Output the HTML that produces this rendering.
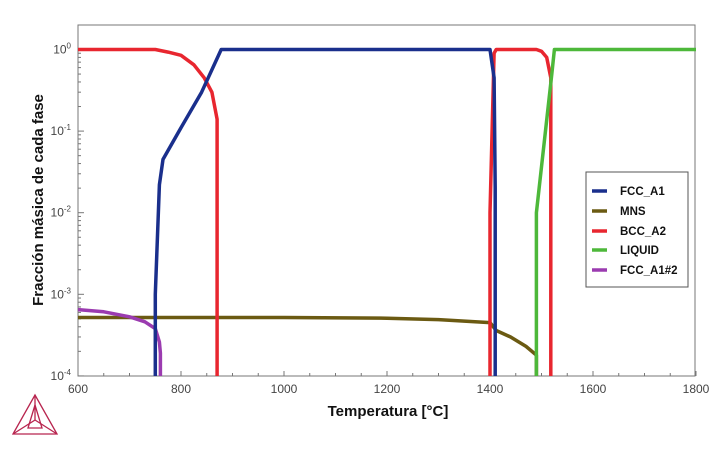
<!DOCTYPE html>
<html><head><meta charset="utf-8"><style>
body{margin:0;background:#fff;width:717px;height:445px;overflow:hidden;font-family:"Liberation Sans",Arial,sans-serif}
</style></head><body>
<svg id="s" width="717" height="445" xmlns="http://www.w3.org/2000/svg" font-family="Liberation Sans, Arial, sans-serif">
<rect x="78" y="25" width="617" height="351" fill="none" stroke="#777" stroke-width="1"/>
<g id="ticks" stroke="#777" stroke-width="1"></g>
<g id="lab" fill="#444" font-size="12"></g>
<g id="curves" fill="none" stroke-width="3.5" stroke-linejoin="round"></g>
<text x="388" y="416" font-size="15" font-weight="bold" text-anchor="middle" fill="#111">Temperatura [°C]</text>
<text transform="translate(43,200) rotate(-90)" font-size="15" font-weight="bold" text-anchor="middle" fill="#111">Fracción másica de cada fase</text>
<rect x="586" y="172" width="102" height="115" fill="#fff" stroke="#555" stroke-width="1"/>
<g font-size="11.5" font-weight="bold" fill="#111" stroke-width="3.5">
<line x1="592" y1="191" x2="607" y2="191" stroke="#1a2f8c"/><text x="620" y="195">FCC_A1</text>
<line x1="592" y1="211" x2="607" y2="211" stroke="#6b5a12"/><text x="620" y="215">MNS</text>
<line x1="592" y1="231" x2="607" y2="231" stroke="#e8262f"/><text x="620" y="235">BCC_A2</text>
<line x1="592" y1="250" x2="607" y2="250" stroke="#4db83a"/><text x="620" y="254">LIQUID</text>
<line x1="592" y1="270" x2="607" y2="270" stroke="#9b3bb0"/><text x="620" y="274">FCC_A1#2</text>
</g>
<g fill="none" stroke="#b8254f" stroke-width="1.3">
<polygon points="35,395 13,434 57,434"/>
<polyline points="35,395 35,420 13,434"/><polyline points="35,420 57,434"/>
<polyline points="35,405 28,428 42,428 35,405"/>
</g>
</svg>
<script>
const X=t=>78+(t-600)*0.515, Y=v=>49.5-81.6*Math.log10(v), B=376;
const ns="http://www.w3.org/2000/svg";
function el(p,tag,a,txt){const e=document.createElementNS(ns,tag);for(const k in a)e.setAttribute(k,a[k]);if(txt!==undefined)e.textContent=txt;document.getElementById(p).appendChild(e);return e;}
for(let t=600;t<=1800;t+=200){el("ticks","line",{x1:X(t),y1:B,x2:X(t),y2:B-5});el("lab","text",{x:X(t),y:B+17,"text-anchor":"middle"},t);}
for(let t=650;t<1800;t+=50){el("ticks","line",{x1:X(t),y1:B,x2:X(t),y2:B-3});}
for(let d=0;d<=4;d++){const y=Y(Math.pow(10,-d));el("ticks","line",{x1:78,y1:y,x2:84,y2:y});
 const tx=el("lab","text",{x:71,y:y+4,"text-anchor":"end"});tx.innerHTML='10<tspan dy="-5" font-size="8">'+(d?'-'+d:'0')+'</tspan>';
 if(d<4)for(let m=2;m<10;m++){const yy=Y(m*Math.pow(10,-d-1));el("ticks","line",{x1:78,y1:yy,x2:81,y2:yy});}}
function P(pts,c){let d=pts.map((p,i)=>(i?"L":"M")+X(p[0]).toFixed(1)+","+(p[1]===0?B:Y(p[1])).toFixed(1)).join(" ");el("curves","path",{d:d,stroke:c});}
P([[600,5.2e-4],[1000,5.2e-4],[1200,5.1e-4],[1300,4.9e-4],[1400,4.5e-4],[1412,3.6e-4],[1440,3.0e-4],[1470,2.3e-4],[1490,1.8e-4],[1490,0]],"#6b5a12");
P([[600,6.5e-4],[650,6.1e-4],[700,5.3e-4],[730,4.6e-4],[750,3.8e-4],[758,2.6e-4],[760,1.9e-4],[760,0]],"#9b3bb0");
P([[600,1],[750,1],[775,0.93],[800,0.85],[825,0.65],[845,0.45],[860,0.3],[870,0.14],[870,0]],"#e8262f");
P([[1400,0],[1400,0.01],[1408,0.9],[1412,1],[1490,1],[1500,0.95],[1510,0.8],[1518,0.45],[1518,0]],"#e8262f");
P([[1490,0],[1490,0.01],[1520,0.5],[1525,1],[1800,1]],"#4db83a");
P([[750,0],[750,1e-3],[758,0.022],[765,0.045],[800,0.11],[840,0.3],[878,1],[1400,1],[1408,0.45],[1410,0.02],[1410,0]],"#1a2f8c");
</script>
</body></html>
